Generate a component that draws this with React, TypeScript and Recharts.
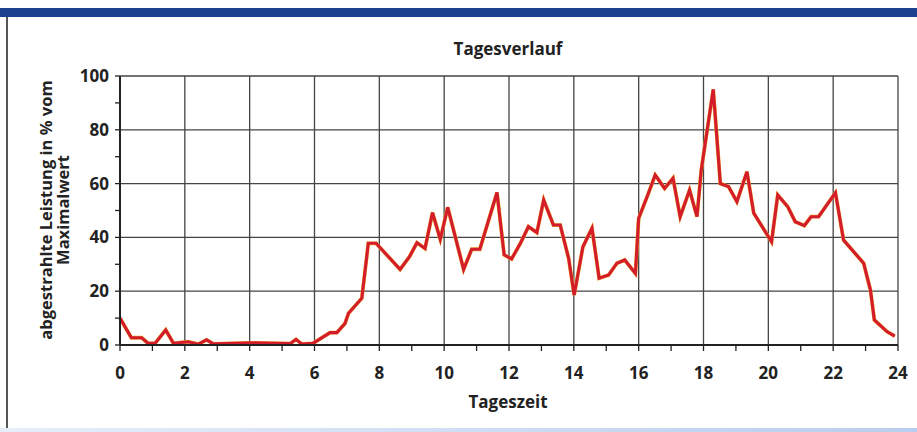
import React from "react";
import { LineChart, Line, XAxis, YAxis, CartesianGrid } from "recharts";

// hours of the day and radiated power in % of max
const hours = [
  0, 0.35, 0.67, 0.87, 1.08, 1.41, 1.65, 2.1, 2.42, 2.67, 2.88, 4.1, 5.25, 5.43, 5.6, 5.95,
  6.48, 6.69, 6.94, 7.05, 7.46, 7.66, 7.9, 8.64, 8.93, 9.16, 9.41, 9.64, 9.88, 10.11,
  10.6, 10.85, 11.1, 11.63, 11.85, 12.08, 12.36, 12.6, 12.86, 13.07, 13.37, 13.58, 13.84,
  14.01, 14.28, 14.56, 14.78, 15.07, 15.33, 15.57, 15.9, 16.0, 16.26, 16.51, 16.8, 17.06,
  17.28, 17.57, 17.8, 17.93, 18.3, 18.52, 18.77, 19.03, 19.34, 19.55, 20.1, 20.29, 20.6,
  20.83, 21.11, 21.32, 21.55, 22.07, 22.32, 22.94, 23.15, 23.27, 23.66, 23.9,
];
const leistung = [
  10, 2.7, 2.7, 0.6, 0.6, 5.6, 0.6, 1.2, 0.3, 1.9, 0.4, 0.8, 0.5, 2.1, 0.4, 0.6,
  4.6, 4.6, 8, 11.8, 17.4, 37.8, 37.8, 28.1, 32.8, 38, 35.9, 49.2, 39.3, 51.2,
  28.1, 35.6, 35.6, 56.7, 33.5, 32, 38, 44, 41.8, 53.9, 44.6, 44.6, 32.2,
  18.6, 36.5, 43.4, 24.8, 26, 30.4, 31.6, 26.6, 47.1, 55.1, 63.2, 58.2, 62,
  47.7, 57.6, 47.7, 65, 95, 60, 58.9, 53.3, 64.4, 49, 38.4, 55.8, 51.4,
  45.8, 44.4, 47.7, 47.7, 56.6, 39, 30.4, 20.4, 9.3, 5, 3.3,
];
const xTicks = Array.from({ length: 25 }, (_, i) => i);
const yTicks = [0, 10, 20, 30, 40, 50, 60, 70, 80, 90, 100];
const xGrid = [0, 2, 4, 6, 8, 10, 12, 14, 16, 18, 20, 22, 24];
const yGrid = [0, 20, 40, 60, 80, 100];

const data = hours.map((h, i) => ({ h, v: leistung[i] }));

const font = "'Open Sans', sans-serif";

export default function App() {
  return (
    <div
      style={{
        position: "absolute",
        left: 0,
        top: 0,
        width: 917,
        height: 432,
        background: "#fff",
        overflow: "hidden",
        fontFamily: font,
      }}
    >
      {/* frame decorations */}
      <div style={{ position: "absolute", left: 0, top: 8, width: 917, height: 9, background: "#1d418e" }} />
      <div style={{ position: "absolute", left: 6, top: 17, width: 1.5, height: 411, background: "#555" }} />
      <div
        style={{
          position: "absolute",
          left: 0,
          top: 428,
          width: 917,
          height: 4,
          background: "linear-gradient(to right, #e6eefa, #b9cdee)",
        }}
      />

      <div
        style={{
          position: "absolute",
          left: 408,
          top: 37,
          width: 200,
          textAlign: "center",
          fontWeight: 700,
          fontSize: 17,
          color: "#222",
        }}
      >
        Tagesverlauf
      </div>
      <div
        style={{
          position: "absolute",
          left: 408,
          top: 390,
          width: 200,
          textAlign: "center",
          fontWeight: 700,
          fontSize: 17,
          color: "#222",
        }}
      >
        Tageszeit
      </div>
      <div
        style={{
          position: "absolute",
          left: 55 - 150,
          top: 210 - 18,
          width: 300,
          height: 36,
          transform: "rotate(-90deg)",
          textAlign: "center",
          fontWeight: 700,
          fontSize: 16.5,
          lineHeight: "17px",
          color: "#222",
        }}
      >
        abgestrahlte Leistung in % vom
        <br />
        Maximalwert
      </div>

      <div style={{ position: "absolute", left: 0, top: 0 }}>
        <LineChart width={917} height={432} data={data} margin={{ top: 76, right: 19, bottom: 47, left: 60 }}>
          <CartesianGrid
            stroke="#444"
            strokeWidth={1.3}
            verticalCoordinatesGenerator={({ xAxis, offset }: any) =>
              xGrid.map((t) =>
                xAxis && typeof xAxis.scale === "function" ? xAxis.scale(t) : offset.left + (t / 24) * offset.width
              )
            }
            horizontalCoordinatesGenerator={({ yAxis, offset }: any) =>
              yGrid.map((t) =>
                yAxis && typeof yAxis.scale === "function"
                  ? yAxis.scale(t)
                  : offset.top + offset.height - (t / 100) * offset.height
              )
            }
          />
          <XAxis
            dataKey="h"
            type="number"
            domain={[0, 24]}
            ticks={xTicks}
            interval={0}
            height={40}
            tickSize={6}
            tickMargin={16}
            tickFormatter={(v: number) => (v % 2 === 0 ? String(v) : "")}
            axisLine={{ stroke: "#222", strokeWidth: 2 }}
            tickLine={{ stroke: "#222", strokeWidth: 1.3 }}
            tick={{ fill: "#222", fontSize: 17, fontWeight: 700, fontFamily: font }}
          />
          <YAxis
            type="number"
            domain={[0, 100]}
            ticks={yTicks}
            interval={0}
            width={60}
            tickSize={5}
            tickMargin={6}
            tickFormatter={(v: number) => (v % 20 === 0 ? String(v) : "")}
            axisLine={{ stroke: "#222", strokeWidth: 2 }}
            tickLine={{ stroke: "#222", strokeWidth: 1.3 }}
            tick={{ fill: "#222", fontSize: 17, fontWeight: 700, fontFamily: font }}
          />
          <Line
            type="linear"
            dataKey="v"
            stroke="#f0b030"
            strokeWidth={3.8}
            dot={false}
            isAnimationActive={false}
            strokeLinejoin="miter"
          />
          <Line
            type="linear"
            dataKey="v"
            stroke="#d31c2c"
            strokeWidth={3.1}
            dot={false}
            isAnimationActive={false}
            strokeLinejoin="miter"
          />
        </LineChart>
      </div>
    </div>
  );
}
